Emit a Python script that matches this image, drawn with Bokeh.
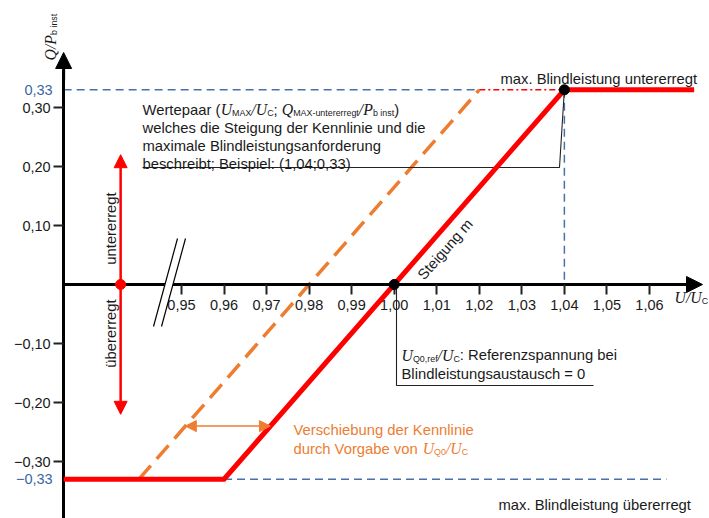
import math
from bokeh.plotting import figure
from bokeh.models import LinearAxis, FixedTicker, Label, Arrow, NormalHead, Range1d
from bokeh.embed import file_html
from bokeh.resources import INLINE

# ---------------- data ----------------
u_axis = 0.9223                      # position of the Q axis on the U/U_C scale
u_char = [0.9223, 0.96, 1.04, 1.0705]  # Q(U) characteristic (red)
q_char = [-0.33, -0.33, 0.33, 0.33]
u_shift = [0.94, 1.02]               # shifted characteristic (orange, dashed)
q_shift = [-0.33, 0.33]
u_ref = 1.00                         # U_Q0,ref / U_C
u_max = 1.04                         # U_MAX / U_C
q_max = 0.33                         # Q_MAX untererregt / P_b inst
q_min = -0.33                        # Q_MAX uebererregt / P_b inst
u_qmin_guide_end = 1.064
q_shift_arrow = -0.24
u_marker = 0.9357
q_marker_span = [-0.22, 0.22]

x_ticks = [0.95, 0.96, 0.97, 0.98, 0.99, 1.00, 1.01, 1.02, 1.03, 1.04, 1.05, 1.06]
x_tick_labels = ["0,95", "0,96", "0,97", "0,98", "0,99", "1,00",
                 "1,01", "1,02", "1,03", "1,04", "1,05", "1,06"]
y_ticks = [0.30, 0.20, 0.10, -0.10, -0.20, -0.30]
y_tick_labels = ["0,30", "0,20", "0,10", "\u22120,10", "\u22120,20", "\u22120,30"]
y_limit_ticks = [0.33, -0.33]
y_limit_labels = ["0,33", "\u22120,33"]

# ---------------- layout ----------------
W, H = 709, 518
OX, OY = 0, 0
U0_PX, KU = 393.7, 4254.5   # picture px of U=1.00, px per unit
Q0_PY, KQ = 284.0, 590.0    # picture px of Q=0, px per unit


def PX(x):
    return 1 + (x - U0_PX) / KU


def PY(y):
    return (Q0_PY - y) / KQ


SANS = "Liberation Sans"
SERIF = "Liberation Serif"
TXT = "#1a1a1a"
BLUE = "#4a6fae"
BLUE_T = "#3b66a5"
RED = "#ff0000"
ORANGE = "#ed7d31"
FS = 14.8

p = figure(width=W, height=H, x_range=Range1d(PX(OX), PX(OX + W)),
           y_range=Range1d(PY(OY + H), PY(OY)), x_axis_type=None, y_axis_type=None,
           toolbar_location=None, output_backend="svg", min_border=0)
p.outline_line_color = None
p.background_fill_color = "white"


def style_axis(ax, size="14.5px"):
    ax.axis_line_color = "black"
    ax.axis_line_width = 3
    ax.major_tick_in = 0
    ax.major_tick_out = 10
    ax.major_tick_line_width = 2
    ax.major_tick_line_color = "#222222"
    ax.minor_tick_in = 0
    ax.minor_tick_out = 0
    ax.minor_tick_line_color = None
    ax.major_label_text_font = SANS
    ax.major_label_text_font_size = size
    ax.major_label_text_color = TXT


xax = LinearAxis(fixed_location=0, ticker=FixedTicker(ticks=x_ticks),
                 major_label_overrides=dict(zip(x_ticks, x_tick_labels)),
                 bounds=(u_axis, PX(686)))
style_axis(xax)
xax.major_label_standoff = 5
p.add_layout(xax, "below")

yax = LinearAxis(fixed_location=u_axis, ticker=FixedTicker(ticks=y_ticks),
                 major_label_overrides=dict(zip(y_ticks, y_tick_labels)),
                 bounds=(PY(540), PY(70)))
style_axis(yax)
yax.major_label_standoff = 3
p.add_layout(yax, "left")

yax2 = LinearAxis(fixed_location=u_axis, ticker=FixedTicker(ticks=y_limit_ticks),
                  major_label_overrides=dict(zip(y_limit_ticks, y_limit_labels)))
style_axis(yax2)
yax2.axis_line_color = None
yax2.major_tick_out = 0
yax2.major_tick_line_color = None
yax2.major_label_standoff = 11
yax2.major_label_text_color = BLUE_T
p.add_layout(yax2, "left")

# axis arrow heads
p.add_layout(Arrow(end=NormalHead(size=16, fill_color="black", line_color="black"),
                   x_start=u_axis, y_start=PY(80), x_end=u_axis, y_end=PY(52),
                   line_width=3, line_color="black"))
p.add_layout(Arrow(end=NormalHead(size=16, fill_color="black", line_color="black"),
                   x_start=PX(682), y_start=0, x_end=PX(702), y_end=0,
                   line_width=3, line_color="black"))

# axis break (two slanted strokes with a gap in the axis)
by = [PY(238), PY(326)]
p.patch([PX(177 - 24 * 40 / 88.0), PX(185 - 24 * 40 / 88.0), PX(185 - 24 * 48 / 88.0), PX(177 - 24 * 48 / 88.0)],
        [PY(278), PY(278), PY(286), PY(286)], fill_color="white", line_color=None, level="overlay")
p.line([PX(177), PX(153)], by, line_color="black", line_width=1.2, level="overlay")
p.line([PX(185), PX(161)], by, line_color="black", line_width=1.2, level="overlay")

# guides
p.line([u_axis, u_shift[1]], [q_max, q_max], line_color=BLUE, line_width=1.5, line_dash="8 5")
p.line([u_shift[1], u_max], [q_max, q_max], line_color=RED, line_width=1.5, line_dash="6 3 2 3")
p.line([u_max, u_max], [q_max, 0], line_color=BLUE, line_width=1.5, line_dash="8 5")
p.line([u_char[1], u_qmin_guide_end], [q_min, q_min], line_color=BLUE, line_width=1.5, line_dash="8 5")

# shifted characteristic
p.line(u_shift, q_shift, line_color=ORANGE, line_width=3.5, line_dash="18 9")

# leader lines
p.line([PX(142), PX(559), u_max], [PY(167), PY(167), q_max], line_color="#222222", line_width=1.1)
p.line([PX(396), PX(396), PX(593)], [0, PY(385), PY(385)], line_color="#222222", line_width=1.1)

# characteristic
p.line(u_char, q_char, line_color=RED, line_width=5, line_join="miter", level="annotation")
p.scatter([u_ref, u_max], [0, q_max], size=10, color="black", level="annotation")

# red marker arrow (unter-/uebererregt)
p.add_layout(Arrow(start=NormalHead(size=13, fill_color=RED, line_color=RED),
                   end=NormalHead(size=13, fill_color=RED, line_color=RED),
                   x_start=u_marker, y_start=q_marker_span[0], x_end=u_marker, y_end=q_marker_span[1],
                   line_color=RED, line_width=2.5))
p.scatter([u_marker], [0], size=10, color=RED, level="annotation")

# shift arrow between the characteristics
slope_c = (u_char[2] - u_char[1]) / (q_char[2] - q_char[1])
slope_s = (u_shift[1] - u_shift[0]) / (q_shift[1] - q_shift[0])
ua = u_shift[0] + (q_shift_arrow - q_shift[0]) * slope_s
ub = u_char[1] + (q_shift_arrow - q_char[1]) * slope_c
p.add_layout(Arrow(start=NormalHead(size=11, fill_color=ORANGE, line_color=ORANGE),
                   end=NormalHead(size=11, fill_color=ORANGE, line_color=ORANGE),
                   x_start=ua, y_start=q_shift_arrow, x_end=ub, y_end=q_shift_arrow,
                   line_color=ORANGE, line_width=1.5))

# ---------------- texts ----------------
AR = {' ': 278, '!': 278, '(': 333, ')': 333, ',': 278, '-': 333, '.': 278, '/': 278, ':': 278,
      ';': 278, '=': 584, 'A': 667, 'B': 667, 'C': 722, 'D': 722, 'E': 667, 'F': 611, 'G': 778,
      'H': 722, 'I': 278, 'J': 500, 'K': 667, 'L': 556, 'M': 833, 'N': 722, 'O': 778, 'P': 667,
      'Q': 778, 'R': 722, 'S': 667, 'T': 611, 'U': 722, 'V': 667, 'W': 944, 'X': 667, 'Y': 667,
      'Z': 611, 'a': 556, 'b': 556, 'c': 500, 'd': 556, 'e': 556, 'f': 278, 'g': 556, 'h': 556,
      'i': 222, 'j': 222, 'k': 500, 'l': 222, 'm': 833, 'n': 556, 'o': 556, 'p': 556, 'q': 556,
      'r': 333, 's': 500, 't': 278, 'u': 556, 'v': 500, 'w': 722, 'x': 500, 'y': 500, 'z': 500,
      '\u00fc': 556, '\u00f6': 556, '\u00e4': 556}
for d in "0123456789":
    AR[d] = 556
TI = {'U': 722, 'Q': 722, 'P': 611, '/': 278, ' ': 250, 'C': 667}


def tw(txt, table):
    return sum(table.get(c, 556) for c in txt) / 1000.0


def rich(pieces, x, y, size=FS, angle=0.0, color=TXT):
    ca, sa = math.cos(angle), math.sin(angle)
    pos = 0.0
    for txt, st in pieces:
        if st == "n":
            font, fs, fst, drop, tab = SANS, size, "normal", 0.0, AR
        elif st == "i":
            font, fs, fst, drop, tab = SERIF, size * 1.07, "italic", 0.0, TI
        else:
            font, fs, fst, drop, tab = SANS, size * 0.6, "normal", size * 0.24, AR
        px = x + pos * ca + drop * sa
        py = y - pos * sa + drop * ca
        p.add_layout(Label(x=PX(px), y=PY(py), text=txt, text_font=font,
                           text_font_size=f"{fs:.1f}px", text_font_style=fst,
                           text_color=color, angle=angle, text_align="left",
                           text_baseline="alphabetic"))
        pos += tw(txt, tab) * fs


# axis titles
rich([("Q/P", "i"), ("b inst", "s")], 50, 60, angle=math.pi / 2)
rich([("U/U", "i"), ("C", "s")], 674, 297)

# callout: Wertepaar
rich([("Wertepaar (", "n"), ("U", "i"), ("MAX", "s"), ("/U", "i"), ("C", "s"), ("; ", "n"),
      ("Q", "i"), ("MAX-untererregt", "s"), ("/P", "i"), ("b inst", "s"), (")", "n")], 142, 109.3)
rich([("welches die Steigung der Kennlinie und die", "n")], 142, 127.3)
rich([("maximale Blindleistungsanforderung", "n")], 142, 145.3)
rich([("beschreibt; Beispiel: (1,04;0,33)", "n")], 142, 163.3)

rich([("max. Blindleistung untererregt", "n")], 500, 78)
rich([("max. Blindleistung \u00fcbererregt", "n")], 498, 504)

rich([("U", "i"), ("Q0,ref", "s"), ("/U", "i"), ("C", "s"), (": Referenzspannung bei", "n")], 401, 354.5)
rich([("Blindleistungsaustausch = 0", "n")], 401, 373.3)

rich([("Verschiebung der Kennlinie", "n")], 293, 429, color=ORANGE)
rich([("durch Vorgabe von ", "n"), ("U", "i"), ("Q0", "s"), ("/U", "i"), ("C", "s")], 293, 448.3, color=ORANGE)

theta = math.atan2((q_char[2] - q_char[1]) * KQ, (u_char[2] - u_char[1]) * KU)
rich([("Steigung m", "n")], 420, 277, angle=theta)

p.add_layout(Label(x=PX(110), y=PY(228), text="untererregt", text_font=SANS,
                   text_font_size=f"{FS}px", text_color=TXT, angle=math.pi / 2,
                   text_align="center", text_baseline="middle"))
p.add_layout(Label(x=PX(110), y=PY(333), text="\u00fcbererregt", text_font=SANS,
                   text_font_size=f"{FS}px", text_color=TXT, angle=math.pi / 2,
                   text_align="center", text_baseline="middle"))

open("out.html", "w").write(file_html(p, INLINE))
